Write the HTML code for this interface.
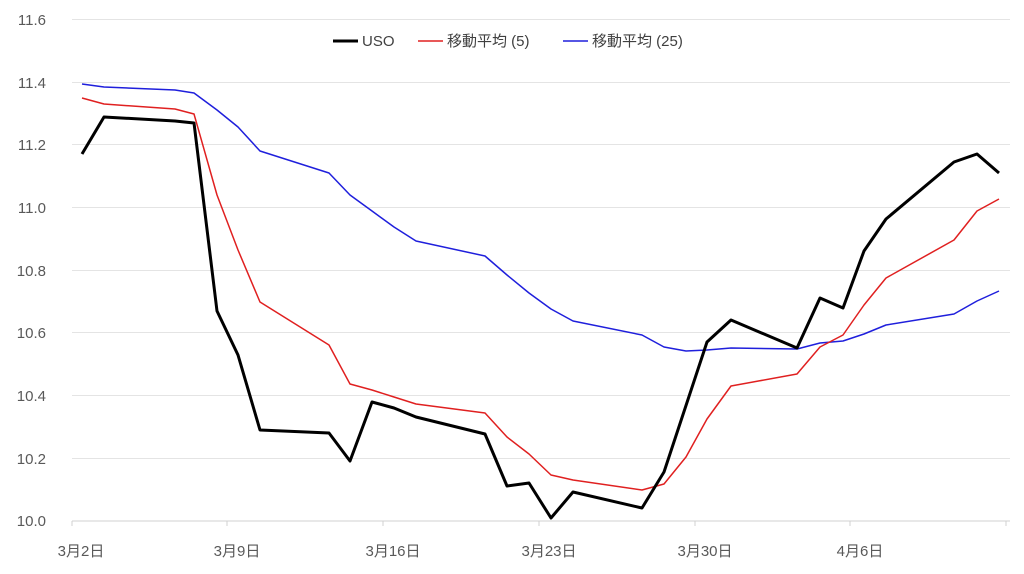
<!DOCTYPE html><html><head><style>body{margin:0;background:#fff}</style></head><body>
<svg width="1024" height="569" xmlns="http://www.w3.org/2000/svg" font-family="Liberation Sans, Noto Sans CJK JP, sans-serif">
<g stroke="#e4e4e4" stroke-width="1">
<line x1="72" x2="1010" y1="19.5" y2="19.5"/><line x1="72" x2="1010" y1="82.5" y2="82.5"/><line x1="72" x2="1010" y1="144.5" y2="144.5"/><line x1="72" x2="1010" y1="207.5" y2="207.5"/><line x1="72" x2="1010" y1="270.5" y2="270.5"/><line x1="72" x2="1010" y1="332.5" y2="332.5"/><line x1="72" x2="1010" y1="395.5" y2="395.5"/><line x1="72" x2="1010" y1="458.5" y2="458.5"/>
</g>
<line x1="72" x2="1010" y1="521" y2="521" stroke="#d0d0d0"/>
<g stroke="#d0d0d0"><line x1="72" x2="72" y1="521" y2="526"/><line x1="227" x2="227" y1="521" y2="526"/><line x1="383" x2="383" y1="521" y2="526"/><line x1="539" x2="539" y1="521" y2="526"/><line x1="695" x2="695" y1="521" y2="526"/><line x1="850" x2="850" y1="521" y2="526"/><line x1="1006" x2="1006" y1="521" y2="526"/></g>
<g fill="#595959" font-size="15" text-anchor="end">
<text x="46" y="25">11.6</text><text x="46" y="88">11.4</text><text x="46" y="150">11.2</text><text x="46" y="213">11.0</text><text x="46" y="276">10.8</text><text x="46" y="338">10.6</text><text x="46" y="401">10.4</text><text x="46" y="464">10.2</text><text x="46" y="526">10.0</text>
</g>
<g fill="#595959" font-size="15" text-anchor="middle">
<text x="81" y="556">3月2日</text><text x="237" y="556">3月9日</text><text x="393" y="556">3月16日</text><text x="549" y="556">3月23日</text><text x="705" y="556">3月30日</text><text x="860" y="556">4月6日</text>
</g>
<g fill="none" stroke-linejoin="round">
<polyline stroke="#1f1fdc" stroke-width="1.5" points="82,84 104,87 175,90 194,93 217,110 238,127 260,151 329,173 350,195 372,211 394,227 416,241 485,256 507,275 529,293 551,309 573,321 642,335 664,347 686,351 707,350 731,348 797,349 820,343 843,341 864,334 886,325 954,314 977,301 999,291"/>
<polyline stroke="#e02020" stroke-width="1.5" points="82,98 104,104 175,109 194,114 217,195 238,250 260,302 329,345 350,384 372,390 394,397 416,404 485,413 507,437 529,454 551,475 573,480 642,490 664,484 686,457 707,419 731,386 797,374 820,347 843,335 864,305 886,278 954,240 977,211 999,199"/>
<polyline stroke="#000" stroke-width="3" points="82,154 104,117 175,121 194,123 217,311 238,355 260,430 329,433 350,461 372,402 394,408 416,417 485,434 507,486 529,483 551,518 573,492 642,508 664,472 707,342 731,320 797,348 820,298 843,308 864,251 886,219 954,162 977,154 999,173"/>
</g>
<g font-size="15" fill="#404040">
<line x1="333" x2="358" y1="41" y2="41" stroke="#000" stroke-width="3"/><text x="362" y="46">USO</text>
<line x1="418" x2="443" y1="41" y2="41" stroke="#e02020" stroke-width="1.5"/><text x="447" y="46">移動平均 (5)</text>
<line x1="563" x2="588" y1="41" y2="41" stroke="#1f1fdc" stroke-width="1.5"/><text x="592" y="46">移動平均 (25)</text>
</g>
</svg></body></html>
